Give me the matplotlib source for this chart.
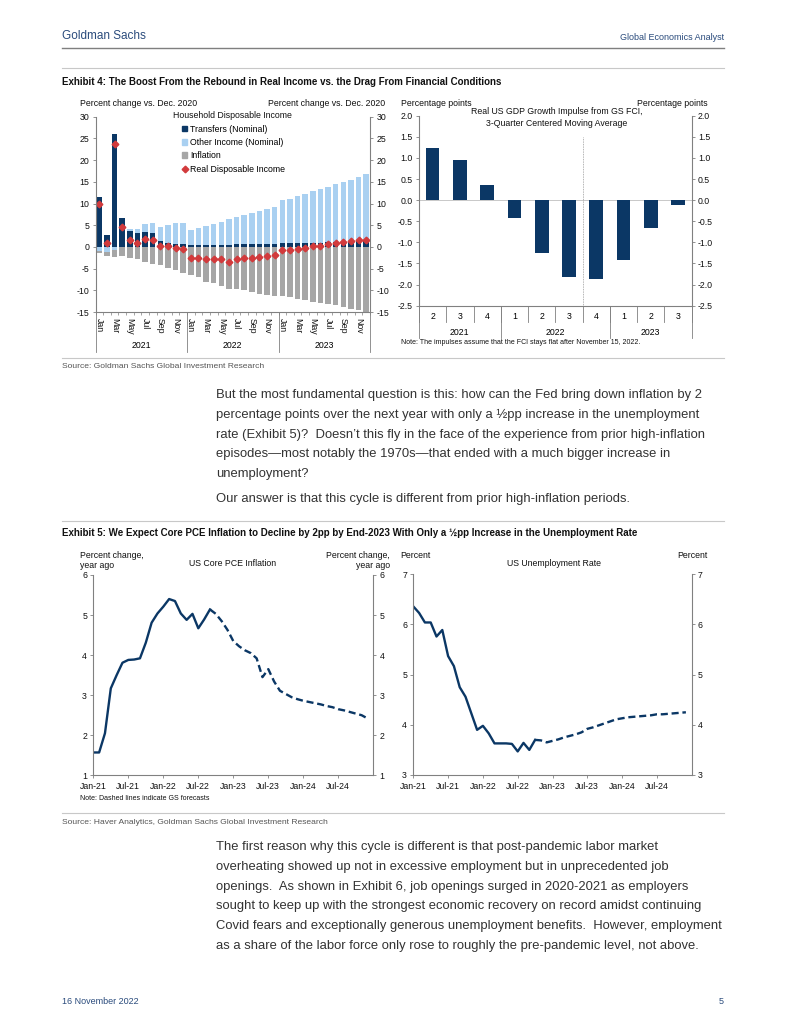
import numpy as np
import matplotlib
matplotlib.use('Agg')
import matplotlib.pyplot as plt
from matplotlib.patches import Patch
from matplotlib.lines import Line2D

plt.rcParams['font.family'] = ['Liberation Sans', 'DejaVu Sans']
plt.rcParams['axes.unicode_minus'] = False

# ---- dados ----
# Exhibit 4, esquerda: renda disponivel, % vs. Dez 2020, Jan-21 .. Dez-23
month_names = ['Jan', 'Feb', 'Mar', 'Apr', 'May', 'Jun',
               'Jul', 'Aug', 'Sep', 'Oct', 'Nov', 'Dec'] * 3
income_years = ['2021', '2022', '2023']
transfers = [11.4, 2.7, 25.9, 6.7, 3.6, 3.1, 3.5, 3.1, 1.3, 1.0, 0.7, 0.6,
             0.5, 0.5, 0.5, 0.5, 0.5, 0.5, 0.6, 0.6, 0.6, 0.6, 0.6, 0.6,
             0.9, 0.9, 1.0, 1.0, 1.0, 1.0, 1.1, 1.1, 1.2, 1.2, 1.3, 1.4]
other_income = [-0.9, -1.15, -0.6, 0.0, 0.5, 1.0, 1.8, 2.5, 3.2, 4.1, 4.7, 4.9,
                3.3, 3.9, 4.4, 4.8, 5.3, 6.0, 6.3, 6.8, 7.2, 7.7, 8.1, 8.5,
                9.8, 10.1, 10.7, 11.2, 11.8, 12.3, 12.8, 13.3, 13.8, 14.3, 14.9, 15.3]
inflation = [-0.6, -0.9, -1.7, -2.1, -2.5, -2.9, -3.5, -3.9, -4.2, -4.8, -5.4, -6.0,
             -6.4, -7.0, -8.0, -8.4, -9.0, -9.7, -9.7, -10.0, -10.3, -10.8, -11.0, -11.2,
             -11.4, -11.6, -12.0, -12.2, -12.6, -12.9, -13.2, -13.5, -13.9, -14.2, -14.6, -15.0]
real_income = [10.0, 0.8, 23.7, 4.7, 1.5, 1.0, 1.8, 1.7, 0.2, 0.3, -0.2, -0.5,
               -2.6, -2.6, -2.9, -2.9, -2.9, -3.4, -2.8, -2.6, -2.5, -2.4, -2.1, -1.9,
               -0.8, -0.8, -0.4, -0.2, 0.1, 0.3, 0.7, 0.8, 1.1, 1.3, 1.5, 1.7]

# Exhibit 4, direita: impulso do FCI no PIB (pp), 2021Q2 .. 2023Q3
quarters = ['2', '3', '4', '1', '2', '3', '4', '1', '2', '3']
quarter_years = ['2021', '2022', '2023']
quarters_per_year = [3, 4, 3]
gdp_impulse = [1.23, 0.94, 0.37, -0.43, -1.24, -1.82, -1.86, -1.41, -0.65, -0.11]

# Exhibit 5: mensal Jan-21 .. Dez-24
date_ticks = ['Jan-21', 'Jul-21', 'Jan-22', 'Jul-22', 'Jan-23', 'Jul-23', 'Jan-24', 'Jul-24']
core_pce = [1.57, 1.57, 2.05, 3.17, 3.50, 3.81, 3.88, 3.89, 3.92, 4.31, 4.81, 5.04,
            5.21, 5.40, 5.35, 5.04, 4.88, 5.03, 4.67, 4.89, 5.14, 5.03, 4.85, 4.63,
            4.35, 4.22, 4.12, 4.05, 3.92, 3.45, 3.65, 3.34, 3.11, 3.03, 2.95, 2.90,
            2.86, 2.83, 2.80, 2.77, 2.73, 2.70, 2.65, 2.62, 2.58, 2.54, 2.50, 2.42]
pce_last_actual = 20
unemployment = [6.36, 6.23, 6.04, 6.04, 5.76, 5.89, 5.37, 5.17, 4.75, 4.56, 4.23, 3.90,
                3.98, 3.83, 3.63, 3.63, 3.63, 3.62, 3.47, 3.64, 3.50, 3.70, 3.69, 3.65,
                3.68, 3.71, 3.75, 3.78, 3.81, 3.85, 3.92, 3.95, 3.99, 4.03, 4.07, 4.11,
                4.13, 4.15, 4.16, 4.17, 4.18, 4.19, 4.21, 4.21, 4.22, 4.23, 4.24, 4.25]
ur_last_actual = 21

# ---- cores ----
NAVY = '#0B3765'
LIGHT = '#A9D0F1'
GRAY = '#A6A6A6'
RED = '#D23A3C'
AXC = '#808080'
HEAD = '#2A4B7C'
TXT = '#333333'
FS = 6.3  # fonte dos graficos

W, H = 791, 1024
fig = plt.figure(figsize=(W / 100, H / 100), dpi=100)


def rect(l, t, r, b):
    return [l / W, 1 - b / H, (r - l) / W, (b - t) / H]


def ftext(x, y, s, **kw):
    kw.setdefault('va', 'center')
    kw.setdefault('fontsize', FS)
    kw.setdefault('color', '#111111')
    fig.text(x / W, 1 - y / H, s, **kw)


def hline(y, x0=62, x1=724, color='#9a9a9a', lw=0.8):
    fig.add_artist(Line2D([x0 / W, x1 / W], [1 - y / H, 1 - y / H], color=color, lw=lw))


def style_axes(ax):
    for s in ['top', 'right']:
        ax.spines[s].set_visible(False)
    for s in ['left', 'bottom']:
        ax.spines[s].set_color(AXC)
        ax.spines[s].set_linewidth(0.8)
    ax.tick_params(axis='y', colors=AXC, labelcolor='#111111', labelsize=FS,
                   length=2.5, width=0.6, pad=2)
    ax.tick_params(axis='x', colors=AXC, labelcolor='#111111', labelsize=FS,
                   width=0.6)


def right_axis(ax):
    axr = ax.twinx()
    axr.set_ylim(ax.get_ylim())
    axr.set_yticks(ax.get_yticks())
    axr.set_yticklabels([t.get_text() for t in ax.get_yticklabels()])
    for s in ['top', 'left', 'bottom']:
        axr.spines[s].set_visible(False)
    axr.spines['right'].set_color(AXC)
    axr.spines['right'].set_linewidth(0.8)
    axr.tick_params(axis='y', colors=AXC, labelcolor='#111111', labelsize=FS,
                    length=2.5, width=0.6, pad=2)
    return axr


# ---- cabecalho ----
ftext(62, 36, 'Goldman Sachs', fontsize=8.5, color=HEAD)
ftext(724, 37, 'Global Economics Analyst', fontsize=6.5, color=HEAD, ha='right')
hline(48, color='#7f7f7f', lw=1.0)
hline(68, color='#c8c8c8')
ftext(62, 82, 'Exhibit 4: The Boost From the Rebound in Real Income vs. the Drag From Financial Conditions',
      fontsize=7.0, weight='bold')

# ---- Exhibit 4 esquerda ----
ax1 = fig.add_axes(rect(95.5, 116.7, 370, 312))
style_axes(ax1)
x1 = np.arange(len(transfers))
pos_base = np.zeros(len(x1))
neg_base = np.zeros(len(x1))
for vals, col in [(transfers, NAVY), (other_income, LIGHT), (inflation, GRAY)]:
    v = np.array(vals, dtype=float)
    bottom = np.where(v >= 0, pos_base, neg_base)
    ax1.bar(x1, v, bottom=bottom, width=0.72, color=col, linewidth=0)
    pos_base += np.clip(v, 0, None)
    neg_base += np.clip(v, None, 0)
ax1.plot(x1, real_income, linestyle='none', marker='D', markersize=3.4,
         color=RED, markeredgecolor=RED)
ax1.set_xlim(-0.5, len(x1) - 0.5)
ax1.set_ylim(-15, 30)
ax1.set_yticks(np.arange(-15, 31, 5))
ax1.set_yticklabels([str(v) for v in range(-15, 31, 5)])
ax1.set_xticks(x1[::2])
ax1.set_xticklabels(month_names[::2], rotation=-90, va='top', ha='center')
ax1.set_xticks(np.arange(-0.5, len(x1), 1), minor=True)
ax1.tick_params(axis='x', which='major', length=0, pad=4)
ax1.tick_params(axis='x', which='minor', length=2, color=AXC, width=0.5)
right_axis(ax1)
tr = ax1.get_xaxis_transform()
for k in range(4):
    ax1.plot([k * 12 - 0.5] * 2, [0, -0.205], transform=tr, color=AXC, lw=0.6, clip_on=False)
for k, yr in enumerate(income_years):
    ax1.text(k * 12 + 5.5, -0.17, yr, transform=tr, ha='center', va='center', fontsize=FS)
handles = [Patch(color=NAVY), Patch(color=LIGHT), Patch(color=GRAY),
           Line2D([], [], linestyle='none', marker='D', markersize=3.4, color=RED)]
ax1.legend(handles, ['Transfers (Nominal)', 'Other Income (Nominal)', 'Inflation',
                     'Real Disposable Income'],
           loc='upper left', bbox_to_anchor=(0.315, 0.96), frameon=False, fontsize=FS,
           handlelength=0.6, handleheight=0.6, handletextpad=0.3, labelspacing=0.5,
           borderaxespad=0, borderpad=0)
ftext(80, 103, 'Percent change vs. Dec. 2020')
ftext(385, 103, 'Percent change vs. Dec. 2020', ha='right')
ftext(232, 115, 'Household Disposable Income', ha='center')

# ---- Exhibit 4 direita ----
ax2 = fig.add_axes(rect(419, 115.7, 691.7, 305.7))
style_axes(ax2)
x2 = np.arange(len(gdp_impulse))
ax2.axhline(0, color='#c8c8c8', lw=0.7, zorder=0)
ax2.bar(x2, gdp_impulse, width=0.5, color=NAVY, linewidth=0)
ax2.set_xlim(-0.5, len(x2) - 0.5)
ax2.set_ylim(-2.5, 2.0)
ax2.set_yticks(np.arange(-2.5, 2.01, 0.5))
ax2.set_yticklabels(['%.1f' % v for v in np.arange(-2.5, 2.01, 0.5)])
ax2.set_xticks([])
right_axis(ax2)
ax2.plot([5.5, 5.5], [-2.5, 1.5], color='#9a9a9a', lw=0.6, linestyle=(0, (1, 1)))
tr2 = ax2.get_xaxis_transform()
for k in range(len(x2) + 1):
    ax2.plot([k - 0.5] * 2, [0, -0.084], transform=tr2, color=AXC, lw=0.6, clip_on=False)
for k, q in enumerate(quarters):
    ax2.text(k, -0.055, q, transform=tr2, ha='center', va='center', fontsize=FS)
edge = -0.5
for n, yr in zip(quarters_per_year, quarter_years):
    ax2.plot([edge] * 2, [0, -0.168], transform=tr2, color=AXC, lw=0.6, clip_on=False)
    ax2.text(edge + n / 2, -0.142, yr, transform=tr2, ha='center', va='center', fontsize=FS)
    edge += n
ax2.plot([edge] * 2, [0, -0.168], transform=tr2, color=AXC, lw=0.6, clip_on=False)
ftext(401, 103, 'Percentage points')
ftext(708, 103, 'Percentage points', ha='right')
ftext(557, 112, 'Real US GDP Growth Impulse from GS FCI,', ha='center')
ftext(557, 124, '3-Quarter Centered Moving Average', ha='center')
ftext(401, 343, 'Note: The impulses assume that the FCI stays flat after November 15, 2022.',
      fontsize=5.0)

hline(358, color='#c8c8c8')
ftext(62, 367, 'Source: Goldman Sachs Global Investment Research', fontsize=6.1,
      color='#555555')

# ---- texto ----
body = dict(fontsize=9.4, color=TXT)
para1 = ['But the most fundamental question is this: how can the Fed bring down inflation by 2',
         'percentage points over the next year with only a ½pp increase in the unemployment',
         'rate (Exhibit 5)?  Doesn\u2019t this fly in the face of the experience from prior high-inflation',
         'episodes\u2014most notably the 1970s\u2014that ended with a much bigger increase in',
         'unemployment?']
for i, line in enumerate(para1):
    ftext(216, 395 + i * 19.8, line, **body)
ftext(216, 499, 'Our answer is that this cycle is different from prior high-inflation periods.', **body)

hline(521, color='#c8c8c8')
ftext(62, 533, 'Exhibit 5: We Expect Core PCE Inflation to Decline by 2pp by End-2023 With Only a ½pp Increase in the Unemployment Rate',
      fontsize=7.05, weight='bold')

# ---- Exhibit 5 esquerda ----
months = np.arange(len(core_pce))
ax3 = fig.add_axes(rect(93.3, 575, 373.3, 775.3))
style_axes(ax3)
ax3.plot(months[:pce_last_actual + 1], core_pce[:pce_last_actual + 1], color=NAVY, lw=1.7)
ax3.plot(months[pce_last_actual:], core_pce[pce_last_actual:], color=NAVY, lw=1.7,
         linestyle=(0, (3, 1.6)))
ax3.set_xlim(0, 48)
ax3.set_ylim(1, 6)
ax3.set_yticks(range(1, 7))
ax3.set_yticklabels([str(v) for v in range(1, 7)])
ax3.set_xticks(np.arange(0, 48, 6))
ax3.set_xticklabels(date_ticks)
ax3.tick_params(axis='x', length=2.5, pad=2.5)
right_axis(ax3)
ftext(80, 555, 'Percent change,')
ftext(80, 566, 'year ago')
ftext(390, 555, 'Percent change,', ha='right')
ftext(390, 566, 'year ago', ha='right')
ftext(233, 564, 'US Core PCE Inflation', ha='center')
ftext(80, 798, 'Note: Dashed lines indicate GS forecasts', fontsize=5.0)

# ---- Exhibit 5 direita ----
ax4 = fig.add_axes(rect(413.3, 574.3, 691.7, 775))
style_axes(ax4)
ax4.plot(months[:ur_last_actual + 1], unemployment[:ur_last_actual + 1], color=NAVY, lw=1.7)
ax4.plot(months[ur_last_actual:], unemployment[ur_last_actual:], color=NAVY, lw=1.7,
         linestyle=(0, (3, 1.6)))
ax4.set_xlim(0, 48)
ax4.set_ylim(3, 7)
ax4.set_yticks(range(3, 8))
ax4.set_yticklabels([str(v) for v in range(3, 8)])
ax4.set_xticks(np.arange(0, 48, 6))
ax4.set_xticklabels(date_ticks)
ax4.tick_params(axis='x', length=2.5, pad=2.5)
right_axis(ax4)
ftext(400, 555, 'Percent')
ftext(708, 555, 'Percent', ha='right')
ftext(554, 564, 'US Unemployment Rate', ha='center')

hline(813, color='#c8c8c8')
ftext(62, 823, 'Source: Haver Analytics, Goldman Sachs Global Investment Research', fontsize=6.1,
      color='#555555')

para3 = ['The first reason why this cycle is different is that post-pandemic labor market',
         'overheating showed up not in excessive employment but in unprecedented job',
         'openings.  As shown in Exhibit 6, job openings surged in 2020-2021 as employers',
         'sought to keep up with the strongest economic recovery on record amidst continuing',
         'Covid fears and exceptionally generous unemployment benefits.  However, employment',
         'as a share of the labor force only rose to roughly the pre-pandemic level, not above.']
for i, line in enumerate(para3):
    ftext(216, 847 + i * 19.8, line, **body)

# ---- rodape ----
ftext(62, 1001, '16 November 2022', fontsize=6.5, color=HEAD)
ftext(724, 1001, '5', fontsize=6.5, color=HEAD, ha='right')

fig.savefig('out.png', dpi=100)
